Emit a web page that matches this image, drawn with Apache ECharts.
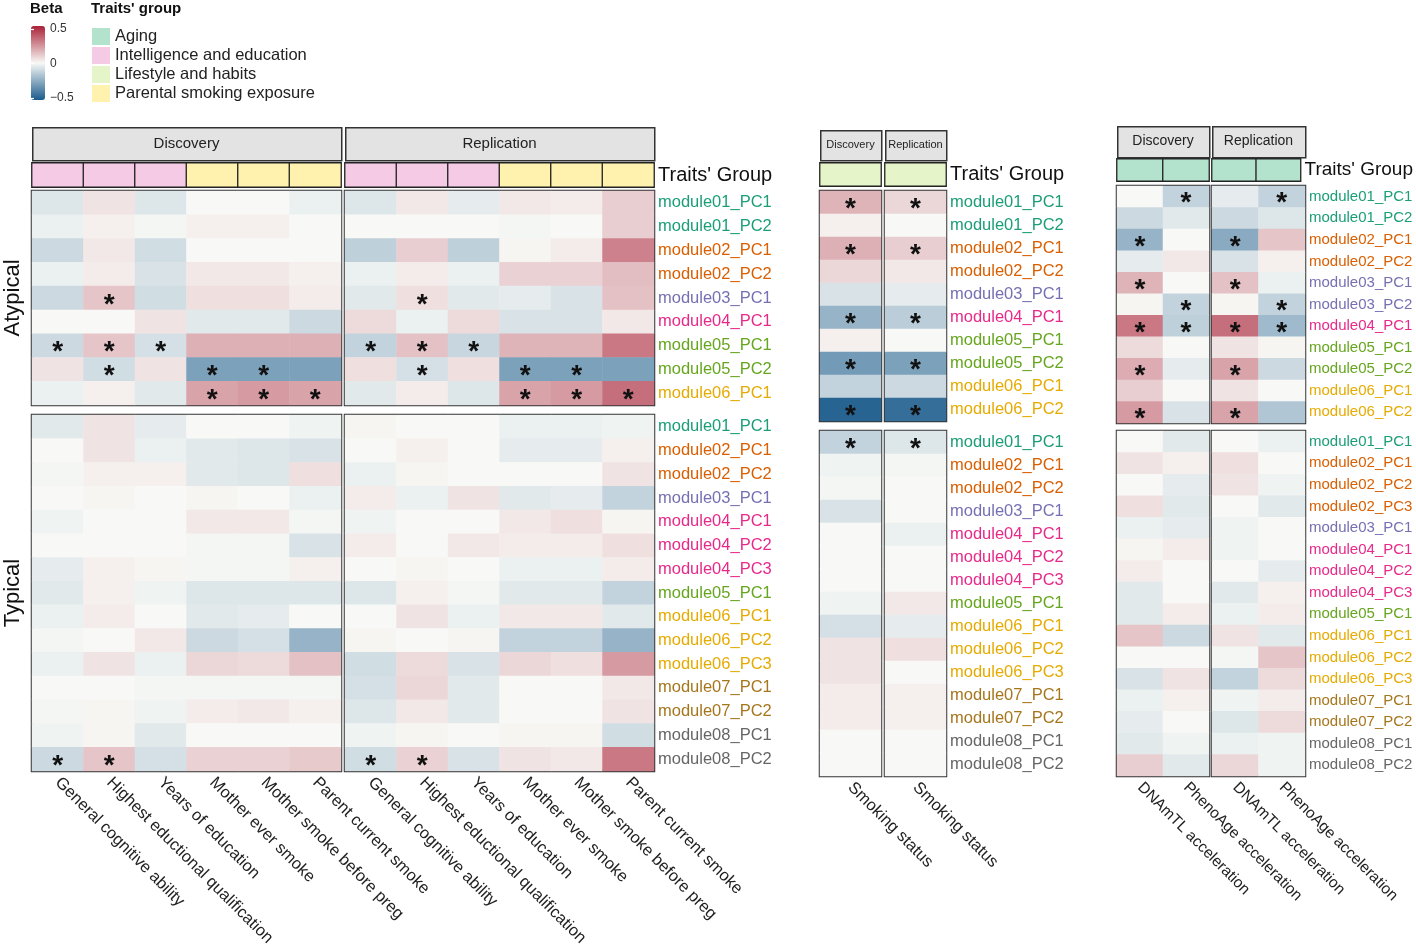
<!DOCTYPE html>
<html><head><meta charset="utf-8">
<script src="https://cdn.jsdelivr.net/npm/echarts@6/dist/echarts.min.js"></script>
<style>html,body{margin:0;padding:0;background:#fff}#c{width:1416px;height:951px}</style>
</head><body><div id="c"></div><script>
const FONT = 'Liberation Sans, Arial, sans-serif';

// ---------- categories ----------
const leftTraits = ['General cognitive ability','Highest eductional qualification','Years of education','Mother ever smoke','Mother smoke before preg','Parent current smoke'];
const leftTraitGroups = ['Intelligence and education','Intelligence and education','Intelligence and education','Parental smoking exposure','Parental smoking exposure','Parental smoking exposure'];
const smokeTraits = ['Smoking status'];
const smokeTraitGroups = ['Lifestyle and habits'];
const agingTraits = ['DNAmTL acceleration','PhenoAge acceleration'];
const agingTraitGroups = ['Aging','Aging'];
const groupNames = ['Aging','Intelligence and education','Lifestyle and habits','Parental smoking exposure'];
const groupColors = ['#b3e2cd','#f4cae4','#e6f5c9','#fff2ae'];
const groupRowLabel = ["Traits' Group"];
const betaTicks = [-0.5, 0, 0.5];

const atypLeftRows = ['module01_PC1','module01_PC2','module02_PC1','module02_PC2','module03_PC1','module04_PC1','module05_PC1','module05_PC2','module06_PC1'];
const typLeftRows = ['module01_PC1','module02_PC1','module02_PC2','module03_PC1','module04_PC1','module04_PC2','module04_PC3','module05_PC1','module06_PC1','module06_PC2','module06_PC3','module07_PC1','module07_PC2','module08_PC1','module08_PC2'];
const atypMidRows = ['module01_PC1','module01_PC2','module02_PC1','module02_PC2','module03_PC1','module04_PC1','module05_PC1','module05_PC2','module06_PC1','module06_PC2'];
const typMidRows = typLeftRows.slice();
const atypRightRows = ['module01_PC1','module01_PC2','module02_PC1','module02_PC2','module03_PC1','module03_PC2','module04_PC1','module05_PC1','module05_PC2','module06_PC1','module06_PC2'];
const typRightRows = ['module01_PC1','module02_PC1','module02_PC2','module02_PC3','module03_PC1','module04_PC1','module04_PC2','module04_PC3','module05_PC1','module06_PC1','module06_PC2','module06_PC3','module07_PC1','module07_PC2','module08_PC1','module08_PC2'];

// ---------- beta values (rows x traits) ----------
const leftDiscAtyp = [
 [-0.06, 0.05,-0.06, 0.00, 0.00,-0.03],
 [-0.03, 0.02,-0.01, 0.02, 0.02, 0.00],
 [-0.10, 0.04,-0.09, 0.00, 0.00, 0.00],
 [-0.03, 0.03,-0.07, 0.04, 0.04, 0.02],
 [-0.10, 0.12,-0.09, 0.06, 0.06, 0.03],
 [ 0.00, 0.00, 0.05,-0.05,-0.05,-0.10],
 [-0.10, 0.12,-0.08, 0.17, 0.17, 0.17],
 [ 0.05,-0.09, 0.05,-0.28,-0.28,-0.28],
 [-0.03, 0.02,-0.05, 0.20, 0.22, 0.20]];
const leftDiscAtypSig = [[4,1],[6,0],[6,1],[6,2],[7,1],[7,3],[7,4],[8,3],[8,4],[8,5]];
const leftRepAtyp = [
 [-0.06, 0.04,-0.04, 0.04, 0.03, 0.10],
 [ 0.00, 0.00, 0.00,-0.01, 0.00, 0.10],
 [-0.13, 0.10,-0.13, 0.01, 0.03, 0.28],
 [-0.03, 0.03,-0.03, 0.09, 0.09, 0.14],
 [-0.05, 0.06,-0.05,-0.04,-0.07, 0.13],
 [ 0.07,-0.03, 0.07,-0.07,-0.07, 0.04],
 [-0.12, 0.13,-0.11, 0.16, 0.16, 0.30],
 [ 0.06,-0.08, 0.06,-0.28,-0.28,-0.28],
 [-0.05, 0.03,-0.06, 0.20, 0.22, 0.32]];
const leftRepAtypSig = [[4,1],[6,0],[6,1],[6,2],[7,1],[7,3],[7,4],[8,3],[8,4],[8,5]];
const leftDiscTyp = [
 [-0.05, 0.05,-0.04, 0.00, 0.00,-0.02],
 [ 0.00, 0.05,-0.03,-0.05,-0.06,-0.07],
 [-0.01, 0.02, 0.02,-0.05,-0.06, 0.06],
 [ 0.00, 0.01, 0.00, 0.01, 0.00,-0.03],
 [-0.02, 0.00, 0.00, 0.04, 0.04,-0.01],
 [ 0.00, 0.00, 0.00,-0.01,-0.01,-0.07],
 [-0.04, 0.02, 0.01,-0.01,-0.01, 0.02],
 [-0.05, 0.02,-0.02,-0.06,-0.06,-0.06],
 [-0.03, 0.03, 0.00,-0.05,-0.04, 0.00],
 [-0.01, 0.00, 0.04,-0.10,-0.08,-0.22],
 [-0.03, 0.05,-0.03, 0.08, 0.07, 0.13],
 [ 0.00, 0.00,-0.01,-0.01,-0.01,-0.01],
 [-0.01, 0.01,-0.02, 0.03, 0.04, 0.02],
 [-0.02, 0.01,-0.05, 0.00, 0.00, 0.00],
 [-0.10, 0.12,-0.08, 0.09, 0.09, 0.11]];
const leftDiscTypSig = [[14,0],[14,1]];
const leftRepTyp = [
 [ 0.01, 0.00, 0.00,-0.03,-0.03,-0.02],
 [ 0.00, 0.02, 0.00,-0.04,-0.04, 0.02],
 [-0.03, 0.01, 0.00, 0.00, 0.00, 0.05],
 [ 0.03,-0.03, 0.05,-0.05,-0.04,-0.12],
 [-0.02, 0.00, 0.00, 0.04, 0.06, 0.01],
 [ 0.03, 0.00, 0.04, 0.03, 0.03, 0.06],
 [ 0.00, 0.01, 0.00,-0.03,-0.03, 0.03],
 [-0.06, 0.02,-0.01,-0.05,-0.05,-0.12],
 [ 0.00, 0.05,-0.03, 0.04, 0.04,-0.05],
 [ 0.01, 0.00, 0.01,-0.12,-0.12,-0.22],
 [-0.09, 0.07,-0.07, 0.08, 0.06, 0.22],
 [-0.08, 0.08,-0.05, 0.00, 0.00, 0.04],
 [-0.06, 0.04,-0.05, 0.00, 0.00, 0.05],
 [-0.02, 0.01, 0.00, 0.01, 0.01,-0.09],
 [-0.09, 0.09,-0.07, 0.05, 0.04, 0.30]];
const leftRepTypSig = [[14,0],[14,1]];

const midDiscAtyp = [0.16, 0.02, 0.17, 0.08,-0.07,-0.22, 0.02,-0.30,-0.12,-0.47];
const midDiscAtypSig = [0,2,5,7,9];
const midRepAtyp  = [0.08, 0.00, 0.10, 0.04,-0.04,-0.14, 0.00,-0.28,-0.10,-0.44];
const midRepAtypSig = [0,2,5,7,9];
const midDiscTyp = [-0.12,-0.02,-0.01,-0.07, 0.00, 0.00, 0.00,-0.02,-0.08, 0.05, 0.05, 0.03, 0.03, 0.00, 0.00];
const midDiscTypSig = [0];
const midRepTyp  = [-0.06,-0.01, 0.00, 0.00,-0.03, 0.00, 0.00, 0.04,-0.04, 0.06, 0.00, 0.02, 0.02, 0.00, 0.00];
const midRepTypSig = [0];

const rightDiscAtyp = [[0.00,-0.12],[-0.10,-0.05],[-0.22,0.00],[-0.04,0.04],[0.16,0.00],[0.01,-0.12],[0.30,-0.13],[0.07,0.00],[0.18,-0.04],[0.10,0.00],[0.22,-0.07]];
const rightDiscAtypSig = [[0,1],[2,0],[4,0],[5,1],[6,0],[6,1],[8,0],[10,0]];
const rightRepAtyp = [[-0.04,-0.12],[-0.10,-0.06],[-0.25,0.12],[-0.07,0.02],[0.13,-0.03],[0.01,-0.12],[0.32,-0.20],[0.05,0.01],[0.20,-0.10],[0.05,0.00],[0.20,-0.16]];
const rightRepAtypSig = [[0,1],[2,0],[4,0],[5,1],[6,0],[6,1],[8,0],[10,0]];
const rightDiscTyp = [[0.00,-0.05],[0.05,0.02],[0.00,-0.04],[0.06,-0.05],[-0.03,-0.04],[0.01,0.03],[0.03,0.00],[-0.05,0.00],[-0.05,0.03],[0.12,-0.10],[0.00,0.00],[-0.07,0.05],[-0.03,0.02],[-0.04,0.00],[-0.05,-0.02],[0.10,-0.05]];
const rightRepTyp = [[0.00,-0.03],[0.06,0.00],[0.05,-0.02],[0.00,-0.05],[-0.02,0.00],[-0.02,0.00],[0.00,-0.04],[-0.05,0.02],[-0.03,0.03],[0.05,-0.05],[-0.01,0.12],[-0.12,0.07],[-0.02,0.03],[-0.06,0.07],[-0.03,-0.02],[0.08,-0.02]];

const moduleColors = {'01':'#1b9e77','02':'#d95f02','03':'#7570b3','04':'#e7298a','05':'#66a61e','06':'#e6ab02','07':'#a6761d','08':'#666666'};

// ---------- option building ----------
const option = {
  backgroundColor:'#fff', animation:false,
  textStyle:{fontFamily:FONT},
  grid:[], xAxis:[], yAxis:[], series:[], graphic:[]
};
const dataSeries = [];

function addGrid(box, xCats, yCats, o) {
  const i = option.grid.length;
  option.grid.push({left:box[0], top:box[1], width:box[2], height:box[3], show:!!o.border, borderColor:'#333', borderWidth:2.5, backgroundColor:'transparent'});
  option.xAxis.push({type:'category', gridIndex:i, data:xCats, position:'bottom', show:!!o.xLabels,
    axisLine:{show:false}, axisTick:{show:false}, splitLine:{show:false},
    axisLabel:{interval:0, rotate:-45, margin:o.xMargin||9, fontSize:o.xfs||16.5, color:'#222', fontFamily:FONT}});
  option.yAxis.push({type:'category', gridIndex:i, data:yCats, inverse:true, position:o.yPos||'right',
    axisLine:{show:false}, axisTick:{show:false}, splitLine:{show:false},
    axisLabel:{show:!!o.yLabels, margin:4, fontSize:o.yfs||16, fontFamily:FONT,
      color: o.yColorByModule ? (v => moduleColors[String(v).slice(6,8)] || '#222') : '#111'},
    name:o.yName||'', nameLocation:'middle', nameRotate:90, nameGap:o.nameGap||10,
    nameTextStyle:{fontSize:22, color:'#111', fontFamily:FONT}});
  return i;
}
function addHeat(gi, values, sig) {
  const data = [];
  values.forEach((row, r) => row.forEach((v, c) => {
    const s = sig.some(p => p[0] === r && p[1] === c) ? 1 : 0;
    data.push([c, r, v, s]);
  }));
  option.series.push({type:'heatmap', xAxisIndex:gi, yAxisIndex:gi, data,
    label:{show:true, formatter:p => p.data[3] ? '*' : '', fontSize:28, fontWeight:'bold', color:'#111', offset:[0,7], fontFamily:FONT},
    emphasis:{disabled:true}, itemStyle:{borderWidth:0}});
  dataSeries.push(option.series.length - 1);
}
function addStrip(gi, groups) {
  groupNames.forEach((g, k) => {
    const data = [];
    groups.forEach((gg, c) => { if (gg === g) data.push([c, 0, 1]); });
    if (data.length) option.series.push({type:'heatmap', name:g, xAxisIndex:gi, yAxisIndex:gi, data,
      itemStyle:{color:groupColors[k], borderColor:'#222', borderWidth:1.3},
      emphasis:{disabled:true}, label:{show:false}});
  });
}
const col = a => a.map(v => [v]);
const sig1 = a => a.map(r => [r, 0]);

// colorbar axis grids (index 0, 1)
option.grid.push({left:31, top:29, width:14, height:69, show:false});
option.xAxis.push({type:'value', gridIndex:0, show:false, min:0, max:1});
option.yAxis.push({type:'value', gridIndex:0, position:'right', min:betaTicks[0], max:betaTicks[2], interval:betaTicks[2], z:10,
  axisLine:{show:false}, splitLine:{show:false},
  axisTick:{show:true, inside:true, length:3, lineStyle:{color:'#fff', width:1.2}},
  axisLabel:{margin:5, fontSize:12, color:'#333', fontFamily:FONT, formatter:v => v < 0 ? '\u2212' + Math.abs(v) : String(v)}});
option.grid.push({left:31, top:29, width:14, height:69, show:false});
option.xAxis.push({type:'value', gridIndex:1, show:false, min:0, max:1});
option.yAxis.push({type:'value', gridIndex:1, position:'left', min:betaTicks[0], max:betaTicks[2], interval:betaTicks[2], z:10,
  axisLine:{show:false}, splitLine:{show:false}, axisLabel:{show:false},
  axisTick:{show:true, inside:true, length:3, lineStyle:{color:'#fff', width:1.2}}});

// ---- left group ----
let g;
g = addGrid([32,163,309,24], leftTraits, groupRowLabel, {yPos:'right'}); addStrip(g, leftTraitGroups);
g = addGrid([345,163,309,24], leftTraits, groupRowLabel, {yPos:'right', yLabels:true, yfs:20}); addStrip(g, leftTraitGroups);
g = addGrid([32,191,309,214], leftTraits, atypLeftRows, {border:true, yPos:'left', yName:'Atypical', nameGap:8}); addHeat(g, leftDiscAtyp, leftDiscAtypSig);
g = addGrid([345,191,309,214], leftTraits, atypLeftRows, {border:true, yLabels:true, yColorByModule:true, yfs:16.5}); addHeat(g, leftRepAtyp, leftRepAtypSig);
g = addGrid([32,415,309,356], leftTraits, typLeftRows, {border:true, yPos:'left', yName:'Typical', nameGap:8, xLabels:true}); addHeat(g, leftDiscTyp, leftDiscTypSig);
g = addGrid([345,415,309,356], leftTraits, typLeftRows, {border:true, yLabels:true, yColorByModule:true, yfs:16.5, xLabels:true}); addHeat(g, leftRepTyp, leftRepTypSig);

// ---- middle group ----
g = addGrid([820,163,61,23], smokeTraits, groupRowLabel, {}); addStrip(g, smokeTraitGroups);
g = addGrid([885,163,61,23], smokeTraits, groupRowLabel, {yLabels:true, yfs:20}); addStrip(g, smokeTraitGroups);
g = addGrid([820,191,61,230], smokeTraits, atypMidRows, {border:true, yPos:'left'}); addHeat(g, col(midDiscAtyp), sig1(midDiscAtypSig));
g = addGrid([885,191,61,230], smokeTraits, atypMidRows, {border:true, yLabels:true, yColorByModule:true, yfs:16.5}); addHeat(g, col(midRepAtyp), sig1(midRepAtypSig));
g = addGrid([820,431,61,345], smokeTraits, typMidRows, {border:true, yPos:'left', xLabels:true}); addHeat(g, col(midDiscTyp), sig1(midDiscTypSig));
g = addGrid([885,431,61,345], smokeTraits, typMidRows, {border:true, yLabels:true, yColorByModule:true, yfs:16.5, xLabels:true}); addHeat(g, col(midRepTyp), sig1(midRepTypSig));

// ---- right group ----
g = addGrid([1117,159,92,22], agingTraits, groupRowLabel, {}); addStrip(g, agingTraitGroups);
g = addGrid([1212,159,93,22], agingTraits, groupRowLabel, {yLabels:true, yfs:19}); addStrip(g, agingTraitGroups);
g = addGrid([1117,186,92,237], agingTraits, atypRightRows, {border:true, yPos:'left'}); addHeat(g, rightDiscAtyp, rightDiscAtypSig);
g = addGrid([1212,186,93,237], agingTraits, atypRightRows, {border:true, yLabels:true, yColorByModule:true, yfs:15}); addHeat(g, rightRepAtyp, rightRepAtypSig);
g = addGrid([1117,431,92,345], agingTraits, typRightRows, {border:true, yPos:'left', xLabels:true, xfs:15.5}); addHeat(g, rightDiscTyp, []);
g = addGrid([1212,431,93,345], agingTraits, typRightRows, {border:true, yLabels:true, yColorByModule:true, yfs:15, xLabels:true, xfs:15.5}); addHeat(g, rightRepTyp, []);

option.visualMap = {type:'continuous', min:betaTicks[0], max:betaTicks[2], dimension:2, seriesIndex:dataSeries,
  inRange:{color:['#1a5b8c','#f8f9f6','#aa2238']}, show:true, calculable:false, hoverLink:false,
  left:31, top:26, itemWidth:14, itemHeight:74, padding:0, orient:'vertical'};

option.legend = {data:groupNames, orient:'vertical', left:92, top:28, padding:0, itemWidth:18, itemHeight:17, itemGap:2,
  icon:'rect', selectedMode:false, itemStyle:{borderWidth:0},
  textStyle:{fontSize:16.5, color:'#222', fontFamily:FONT}};

option.title = [
  {text:'Beta', left:30, top:1, padding:0, textStyle:{fontSize:15, fontWeight:'bold', color:'#111', fontFamily:FONT}},
  {text:"Traits' group", left:91, top:1, padding:0, textStyle:{fontSize:15, fontWeight:'bold', color:'#111', fontFamily:FONT}}
];

// strip headers (facet boxes)
const headers = [
  ['Discovery', 32,127,309,33,15], ['Replication', 345,127,309,33,15],
  ['Discovery', 820,130,61,30,11], ['Replication', 885,130,61,30,11],
  ['Discovery', 1117,126,92,31,14], ['Replication', 1212,126,93,31,14]
];
headers.forEach(h => {
  option.graphic.push({type:'rect', left:h[1], top:h[2], shape:{width:h[3], height:h[4]},
    style:{fill:'#e3e3e3', stroke:'#333', lineWidth:1.5}, z:5});
  option.graphic.push({type:'text', x:h[1] + h[3]/2, y:h[2] + h[4]/2,
    style:{text:h[0], fontSize:h[5], fill:'#222', fontFamily:FONT, align:'center', verticalAlign:'middle'}, z:6});
});

const chart = echarts.init(document.getElementById('c'), null, {renderer:'canvas'});
chart.setOption(option);
</script></body></html>
